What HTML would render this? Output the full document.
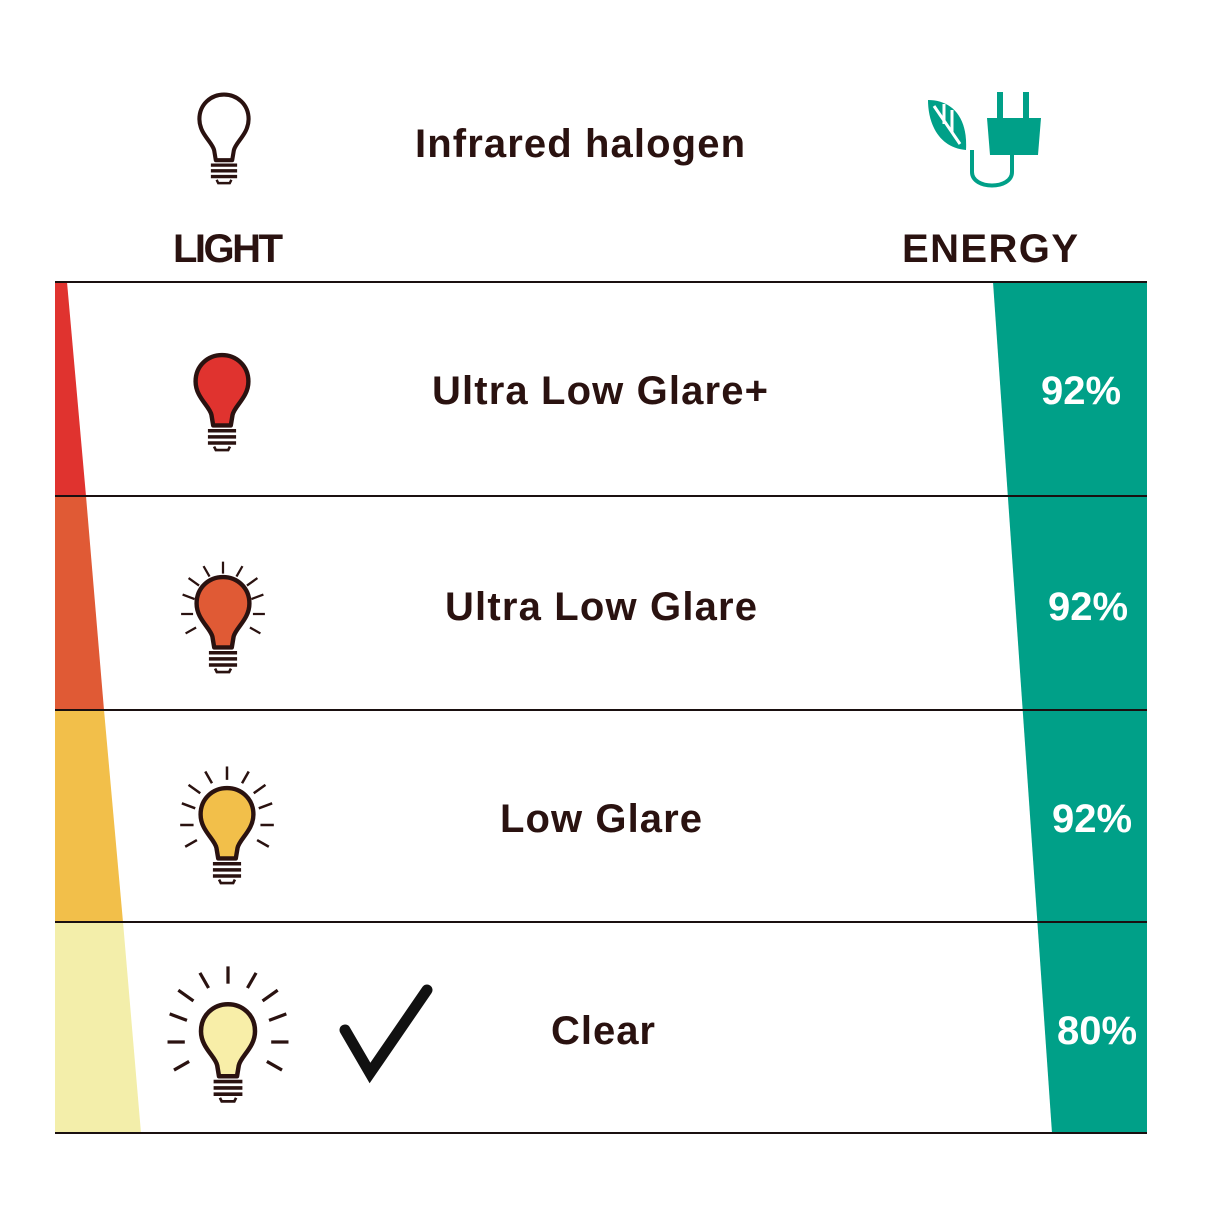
<!DOCTYPE html>
<html><head><style>body{margin:0;background:#fff}svg{display:block}text{font-family:"Liberation Sans",sans-serif;font-weight:bold}</style></head>
<body>
<svg width="1214" height="1214" viewBox="0 0 1214 1214">
<defs>
<g id="bulb">
<path d="M-10,38 L-12,26 C-14,16 -30,6 -30,-12 C-30,-30 -16,-42 0,-42 C16,-42 30,-30 30,-12 C30,6 14,16 12,26 L10,38 Z" stroke="#2a1210" stroke-width="5" stroke-linejoin="round"/>
<g stroke="#2a1210" stroke-width="4">
<line x1="-16" y1="44" x2="16" y2="44"/><line x1="-16" y1="51" x2="16" y2="51"/><line x1="-16" y1="58" x2="16" y2="58"/>
<path d="M-9,62 L-7,66 L7,66 L9,62" fill="none" stroke-width="3"/></g>
</g>
<g id="rays" stroke="#2a1210" stroke-width="3">
<line x1="0" y1="-54" x2="0" y2="-70"/><line x1="18" y1="-50" x2="26" y2="-64"/><line x1="-18" y1="-50" x2="-26" y2="-64"/>
<line x1="32" y1="-38" x2="46" y2="-48"/><line x1="-32" y1="-38" x2="-46" y2="-48"/>
<line x1="38" y1="-20" x2="54" y2="-26"/><line x1="-38" y1="-20" x2="-54" y2="-26"/>
<line x1="40" y1="0" x2="56" y2="0"/><line x1="-40" y1="0" x2="-56" y2="0"/>
<line x1="36" y1="18" x2="50" y2="26"/><line x1="-36" y1="18" x2="-50" y2="26"/>
</g>
</defs>
<polygon points="55,282 67,282 86,496 55,496" fill="#e0332f"/>
<polygon points="55,496 86,496 104,710 55,710" fill="#e05a35"/>
<polygon points="55,710 104,710 123,922 55,922" fill="#f2bf4a"/>
<polygon points="55,922 123,922 141,1133 55,1133" fill="#f3eeaa"/>
<polygon points="993,282 1147,282 1147,1133 1052,1133" fill="#00a088"/>
<g stroke="#1a1010" stroke-width="2">
<line x1="55" y1="282" x2="1147" y2="282"/><line x1="55" y1="496" x2="1147" y2="496"/>
<line x1="55" y1="710" x2="1147" y2="710"/><line x1="55" y1="922" x2="1147" y2="922"/>
<line x1="55" y1="1133" x2="1147" y2="1133"/></g>
<g fill="#2a1210">
<text x="580" y="157" font-size="40" text-anchor="middle" textLength="330">Infrared halogen</text>
<text x="227" y="262" font-size="40" text-anchor="middle" textLength="108" letter-spacing="-2">LIGHT</text>
<text x="990" y="262" font-size="40" text-anchor="middle" textLength="176">ENERGY</text>
<text x="600" y="404" font-size="40" text-anchor="middle" textLength="336">Ultra Low Glare+</text>
<text x="601" y="620" font-size="40" text-anchor="middle" textLength="312">Ultra Low Glare</text>
<text x="601" y="832" font-size="40" text-anchor="middle" textLength="202">Low Glare</text>
<text x="603" y="1044" font-size="40" text-anchor="middle" textLength="104">Clear</text>
</g>
<g fill="#fff" font-size="40">
<text x="1081" y="404" text-anchor="middle">92%</text>
<text x="1088" y="620" text-anchor="middle">92%</text>
<text x="1092" y="832" text-anchor="middle">92%</text>
<text x="1097" y="1044" text-anchor="middle">80%</text>
</g>
<g transform="translate(224,129) scale(0.82)" fill="none"><use href="#bulb"/></g>
<g transform="translate(222,392) scale(0.88)" fill="#e0332f"><use href="#bulb"/></g>
<g transform="translate(223,614) scale(0.88)" fill="#e05a35"><use href="#bulb"/><use href="#rays" transform="scale(0.85)"/></g>
<g transform="translate(227,825) scale(0.88)" fill="#f2bf4a"><use href="#bulb"/><use href="#rays" transform="scale(0.95)"/></g>
<g transform="translate(228,1042) scale(0.9)" fill="#f8eea8"><use href="#bulb"/><use href="#rays" transform="scale(1.2)"/></g>
<polyline points="345,1030 370,1073 427,990" fill="none" stroke="#111" stroke-width="11" stroke-linecap="round" stroke-linejoin="miter"/>
<g fill="#00a088">
<path d="M928,100 C950,100 968,115 966,150 C940,148 928,125 928,100 Z"/>
<rect x="997" y="92" width="6" height="28"/><rect x="1023" y="92" width="6" height="28"/>
<path d="M987,118 L1041,118 L1038,155 L990,155 Z"/>
<path d="M1012,155 L1012,172 C1012,190 972,190 972,172 L972,150" fill="none" stroke="#00a088" stroke-width="4"/>
</g>
<g stroke="#fff" stroke-width="3"><line x1="934" y1="106" x2="960" y2="144"/><line x1="944" y1="104" x2="944" y2="124"/><line x1="952" y1="110" x2="952" y2="132"/></g>
</svg>
</body></html>
